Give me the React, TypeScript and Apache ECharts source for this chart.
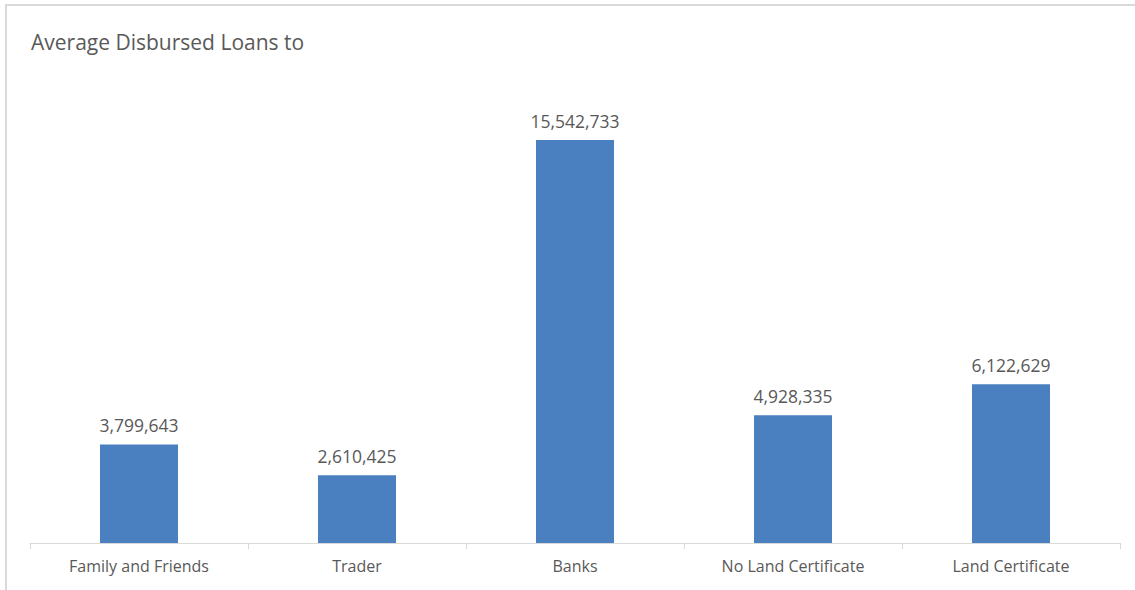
import React, { useEffect, useRef } from "react";
import * as echarts from "echarts";

const categories = ["Family and Friends", "Trader", "Banks", "No Land Certificate", "Land Certificate"];
const values = [3799643, 2610425, 15542733, 4928335, 6122629];
const titleText = "Average Disbursed Loans to";

export default function App() {
  const ref = useRef<HTMLDivElement>(null);
  useEffect(() => {
    if (!ref.current) return;
    const chart = echarts.init(ref.current, undefined, { renderer: "svg" });
    const fmt = (v: number) => v.toLocaleString("en-US");
    chart.setOption({
      animation: false,
      backgroundColor: "#ffffff",
      title: {
        text: titleText,
        left: 26,
        top: 26,
        textStyle: { fontFamily: "Open Sans", fontSize: 21, fontWeight: "normal", color: "#595959" },
      },
      graphic: [
        {
          type: "rect",
          shape: { x: 6, y: 5, width: 1140, height: 600 },
          style: { fill: "none", stroke: "#d9d9d9", lineWidth: 2 },
          silent: true,
        },
      ],
      grid: { left: 30, right: 15, top: 76.3, bottom: 47, containLabel: false },
      xAxis: {
        type: "category",
        data: categories,
        axisLine: { lineStyle: { color: "#d9d9d9", width: 1 } },
        axisTick: { show: true, length: 6, lineStyle: { color: "#d9d9d9" } },
        axisLabel: { color: "#595959", fontFamily: "Open Sans", fontSize: 16, margin: 15 },
      },
      yAxis: {
        type: "value",
        min: 0,
        max: 18000000,
        show: false,
        splitLine: { show: false },
      },
      series: [
        {
          type: "bar",
          data: values,
          barWidth: 78,
          itemStyle: { color: "#4a80c0" },
          label: {
            show: true,
            position: "top",
            distance: 10,
            color: "#595959",
            fontFamily: "Open Sans",
            fontSize: 17.5,
            formatter: (p: any) => fmt(p.value),
          },
        },
      ],
    });
    return () => chart.dispose();
  }, []);
  return (
    <div
      ref={ref}
      style={{ position: "absolute", left: 0, top: 0, width: 1135, height: 590 }}
    />
  );
}
